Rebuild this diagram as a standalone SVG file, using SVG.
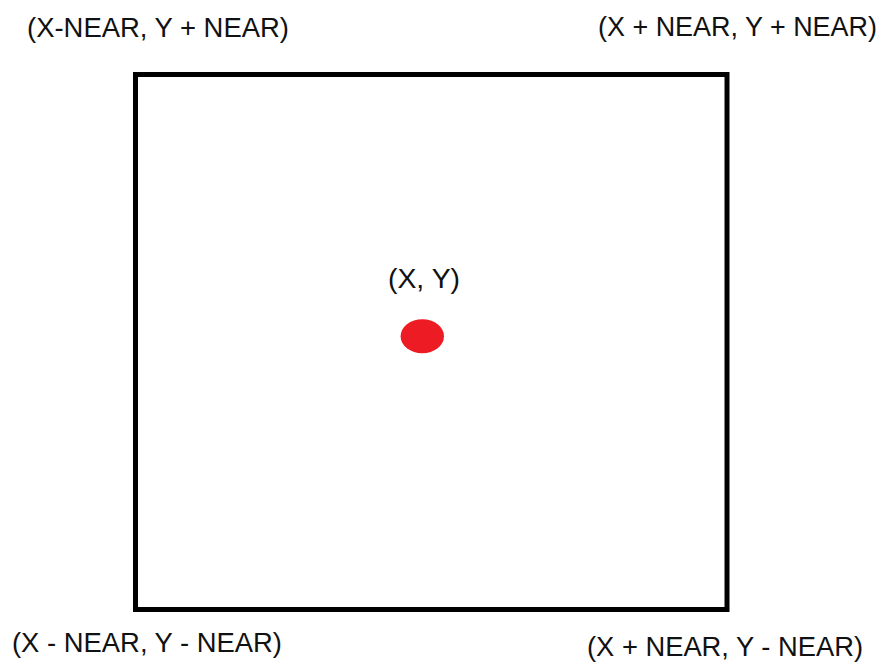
<svg xmlns="http://www.w3.org/2000/svg" width="882" height="663" viewBox="0 0 882 663">
<style>
.lbl{font-family:"Liberation Sans",Arial,sans-serif;font-size:27px;fill:#111;}
</style>
<rect x="0" y="0" width="882" height="663" fill="#fff"/>
<g id="square">
<rect x="135.5" y="74.5" width="591.5" height="535" fill="none" stroke="#000" stroke-width="5"/>
</g>
<g id="point">
<ellipse cx="422.3" cy="336.3" rx="21.7" ry="17" fill="#ED1C24"/>
<text class="lbl" x="388" y="288" textLength="72" lengthAdjust="spacingAndGlyphs">(X, Y)</text>
</g>
<g id="top-left"><text class="lbl" x="27" y="37" textLength="262" lengthAdjust="spacingAndGlyphs">(X-NEAR, Y + NEAR)</text></g>
<g id="top-right"><text class="lbl" x="598" y="36" textLength="279" lengthAdjust="spacingAndGlyphs">(X + NEAR, Y + NEAR)</text></g>
<g id="bottom-left"><text class="lbl" x="12" y="652" textLength="270" lengthAdjust="spacingAndGlyphs">(X - NEAR, Y - NEAR)</text></g>
<g id="bottom-right"><text class="lbl" x="587" y="656" textLength="276" lengthAdjust="spacingAndGlyphs">(X + NEAR, Y - NEAR)</text></g>
<g id="connectors"></g>
</svg>
